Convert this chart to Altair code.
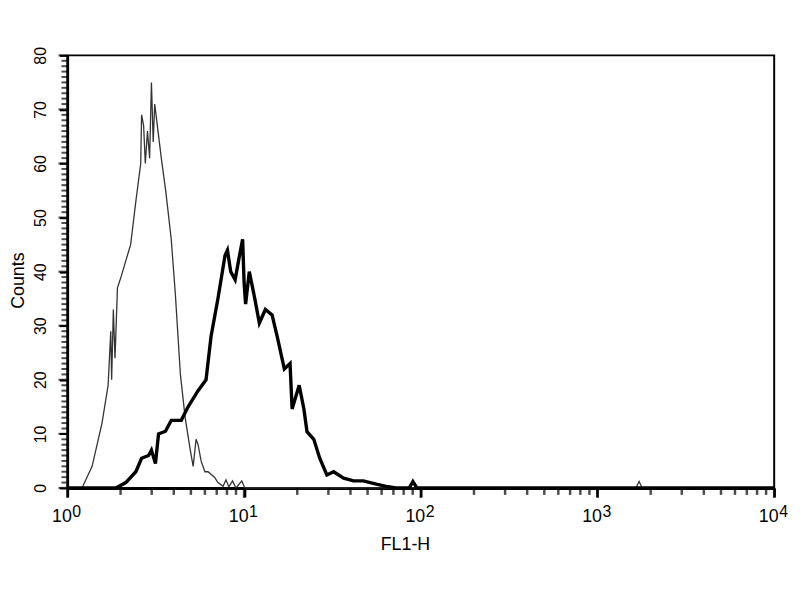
import altair as alt
import pandas as pd

# thin histogram (control)
thin_fl1 = [1.0, 1.21, 1.38, 1.57, 1.70, 1.76, 1.78, 1.82, 1.86, 1.92, 2.01, 2.14,
            2.28, 2.44, 2.60, 2.63, 2.70, 2.76, 2.84, 2.92, 2.99, 3.06, 3.12, 3.40,
            3.60, 3.87, 4.08, 4.36, 4.64, 4.96, 5.15, 5.35, 5.49, 5.71, 6.0, 6.25,
            6.8, 7.11, 7.6, 7.9, 8.2, 8.6, 9.0, 9.7, 10.1, 1650, 1720, 1790, 10000]
thin_counts = [0, 0, 4, 12, 19, 29, 20, 33, 24, 37, 39, 42,
               45, 53, 60, 69, 67, 60, 66, 61, 75, 64, 71, 61,
               55, 46, 36, 21, 13, 7, 4, 9, 8, 5, 3, 3,
               2, 1, 0.3, 1.5, 0.2, 1.3, 0, 1.3, 0, 0, 1.2, 0, 0]

# thick histogram (stained)
thick_fl1 = [1.0, 1.88, 2.14, 2.44, 2.63, 2.88, 2.99, 3.15, 3.28, 3.59, 3.87, 4.41,
             4.82, 5.49, 6.09, 6.50, 7.11, 7.80, 8.05, 8.40, 8.90, 9.30, 9.81, 10.0,
             10.2, 10.7, 11.5, 12.2, 13.2, 14.4, 15.4, 16.9, 18.2, 18.7, 20.5, 21.8,
             22.7, 24.8, 26.8, 29.4, 32.1, 36.6, 41.6, 47.3, 56, 63.7, 72.4, 86,
             90.2, 95, 10000]
thick_counts = [0, 0, 1, 3, 5.5, 6, 7, 4.5, 10, 10.5, 12.5, 12.5,
                15, 18, 20, 28, 35, 43, 44, 40, 38.5, 42, 46, 38,
                34, 40, 35, 30.5, 33, 32, 28, 22, 23, 14.6, 19, 14.6,
                10.4, 9, 5.5, 2.4, 3, 1.8, 1.3, 1.3, 0.7, 0.3, 0, 0,
                1.2, 0, 0]

decades = [1, 10, 100, 1000, 10000]
exponents = ["0", "1", "2", "3", "4"]
y_major = [0, 10, 20, 30, 40, 50, 60, 70, 80]
y_minor = [v for v in range(81) if v % 10]
x_minor = [m * d for d in [1, 10, 100, 1000] for m in range(2, 10)]

thin_df = pd.DataFrame({"fl1": thin_fl1, "counts": thin_counts})
thick_df = pd.DataFrame({"fl1": thick_fl1, "counts": thick_counts})
exp_df = pd.DataFrame({"fl1": decades, "exp": exponents})

W, H = 714, 437
FONT = "Liberation Sans"

x_scale = alt.Scale(type="log", domain=[1, 10000], nice=False)
y_scale = alt.Scale(domain=[0, 80], nice=False)

x_axis = alt.Axis(
    values=decades, labelExpr="'10'", ticks=True,
    tickSize=9, tickColor="black", tickWidth=2.5,
    domainColor="black", domainWidth=3,
    labelFont=FONT, labelFontSize=18, labelColor="black", labelAlign="right",
    labelOffset=4, labelBaseline="top", labelPadding=11, labelOverlap=False,
    labelFlush=False, grid=False,
    title="FL1-H", titleFont=FONT, titleFontSize=18, titleFontWeight="normal",
    titleColor="black", titleX=341, titleY=62, titleBaseline="alphabetic",
    titleAlign="center")

y_axis = alt.Axis(
    values=y_major, ticks=True, tickSize=8, tickColor="black", tickWidth=2,
    domainColor="black", domainWidth=2.5,
    labelFont=FONT, labelFontSize=16, labelColor="black", labelAngle=270,
    labelAlign="center", labelBaseline="alphabetic", labelPadding=14,
    labelOverlap=False, grid=False,
    title="Counts", titleFont=FONT, titleFontSize=18, titleFontWeight="normal",
    titleColor="black", titleAngle=270, titleX=-44, titleY=227,
    titleBaseline="alphabetic", titleAlign="center")

thin = alt.Chart(thin_df).mark_line(color="#333333", strokeWidth=1.3).encode(
    x=alt.X("fl1:Q", scale=x_scale, axis=x_axis),
    y=alt.Y("counts:Q", scale=y_scale, axis=y_axis),
)

thick = alt.Chart(thick_df).mark_line(color="black", strokeWidth=3.4).encode(
    x=alt.X("fl1:Q", scale=x_scale),
    y=alt.Y("counts:Q", scale=y_scale),
)


# outward-pointing tick marks (tick marks shifted off the frame)
def y_ticks(values, length, width):
    return alt.Chart(pd.DataFrame({"v": values})).mark_tick(
        color="black", thickness=width, size=length, orient="horizontal",
        xOffset=-length / 2).encode(
        y=alt.Y("v:Q", scale=y_scale),
        x=alt.value(0),
    )


def x_ticks(values, length, width):
    return alt.Chart(pd.DataFrame({"v": values})).mark_tick(
        color="black", thickness=width, size=length, orient="vertical",
        yOffset=length / 2).encode(
        x=alt.X("v:Q", scale=x_scale),
        y=alt.value(H),
    )


exps = alt.Chart(exp_df).mark_text(
    align="left", baseline="alphabetic", dx=5, fontSize=16, font=FONT,
    color="black").encode(
    x=alt.X("fl1:Q", scale=x_scale),
    y=alt.value(H + 29),
    text="exp:N",
)

chart = (thin + thick
         + y_ticks(y_minor, 6, 2) + y_ticks(y_major, 9, 2.2)
         + x_ticks(x_minor, 7, 2.5) + x_ticks(decades, 10, 2.5)
         + exps).properties(
    width=W, height=H, autosize="none", background="white",
    padding={"left": 60, "top": 45, "right": 18, "bottom": 80},
).configure_view(stroke="black", strokeWidth=2)

chart.save("out.html", embed_options={"renderer": "svg", "actions": False})
